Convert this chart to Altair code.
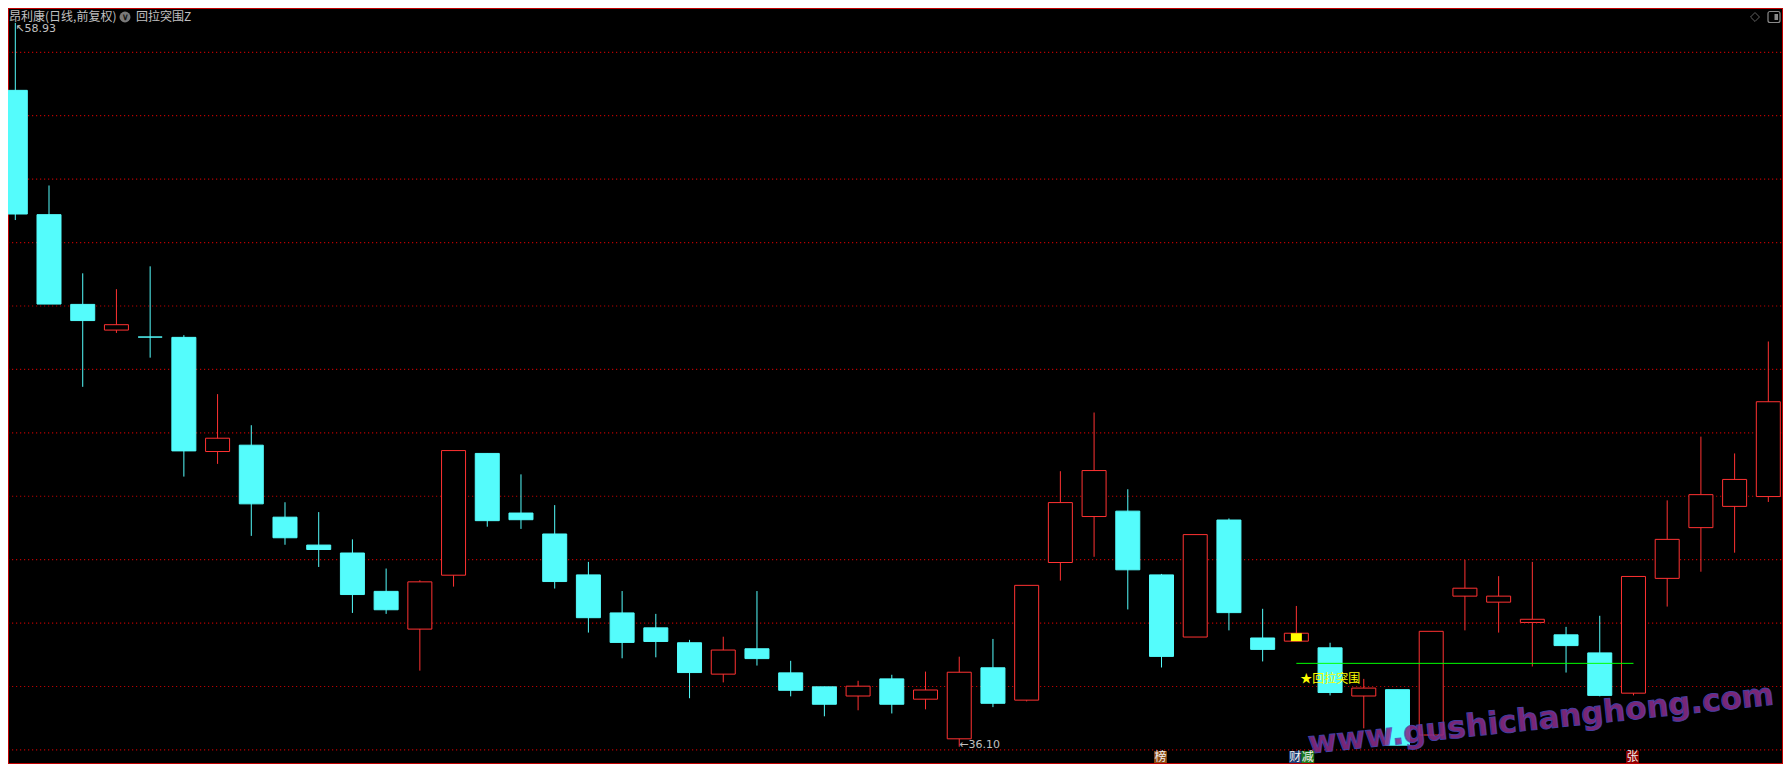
import altair as alt
import pandas as pd

# ---------------- data ----------------
opens  = [56.80, 52.88, 50.05, 49.24, 49.02, 49.01, 45.41, 45.61, 43.34, 42.46,
          42.21, 41.00, 39.81, 41.51, 45.35, 43.47, 42.81, 41.52, 40.32, 39.85,
          39.38, 38.39, 39.19, 38.43, 37.99, 37.70, 38.24, 37.60, 36.35, 38.59,
          37.57, 41.91, 43.36, 43.53, 41.52, 39.56, 43.25, 39.53, 39.43, 39.22,
          37.70, 37.90, 36.47, 40.85, 40.66, 40.02, 39.63, 39.06, 37.79, 41.41,
          43.01, 43.68, 43.99]
highs  = [58.93, 53.80, 51.03, 50.53, 51.25, 49.08, 47.22, 46.24, 43.81, 43.50,
          42.64, 41.72, 41.35, 45.44, 45.35, 44.69, 43.72, 41.93, 41.01, 40.29,
          39.47, 39.57, 41.01, 38.81, 37.99, 38.18, 38.37, 38.47, 38.94, 39.50,
          41.19, 44.79, 46.64, 44.22, 41.55, 42.79, 43.30, 40.45, 40.54, 39.38,
          38.24, 37.90, 39.74, 41.99, 41.48, 41.93, 39.88, 40.23, 41.47, 43.87,
          45.88, 45.35, 48.88]
lows   = [52.71, 50.06, 47.45, 49.15, 48.37, 44.62, 45.02, 42.75, 42.47, 41.77,
          40.32, 40.29, 38.50, 41.15, 43.04, 42.97, 41.09, 39.70, 38.89, 38.92,
          37.63, 38.13, 38.66, 37.69, 37.06, 37.25, 37.15, 37.28, 36.10, 37.35,
          37.53, 41.34, 42.09, 40.43, 38.60, 39.56, 39.77, 38.79, 39.43, 37.72,
          36.68, 36.15, 36.47, 39.77, 39.70, 38.63, 38.44, 37.69, 37.72, 40.52,
          41.62, 42.22, 43.82]
closes = [52.90, 50.06, 49.54, 49.41, 49.02, 45.43, 45.83, 43.76, 42.69, 42.32,
          40.90, 40.42, 41.30, 45.44, 43.23, 43.26, 41.31, 40.17, 39.39, 39.42,
          38.44, 39.15, 38.88, 37.88, 37.44, 38.01, 37.44, 37.89, 38.45, 37.47,
          41.19, 43.80, 44.81, 41.68, 38.95, 42.79, 40.33, 39.17, 39.68, 37.81,
          37.95, 36.15, 39.74, 41.10, 40.85, 40.12, 39.29, 37.72, 41.47, 42.64,
          44.05, 44.53, 46.98]

grid_levels = [36, 38, 40, 42, 44, 46, 48, 50, 52, 54, 56, 58]

signal_start = [38]
signal_end = [48]
signal_level = [38.73]
signal_text = ["★回拉突围"]

marker_idx = [34, 38, 38, 48]
marker_txt = ["榜", "财", "减", "张"]
marker_slot = [0, 0, 1, 0]

title_main = "昂利康(日线,前复权)"
title_ind = "回拉突围Z"
watermark = "www.gushichanghong.com"

# ---------------- styling / layout ----------------
RED = "#ff3232"
CYAN = "#54fcfc"
GRID = "#b80000"
FRAME = "#c00000"
GRAY = "#c0c0c0"
CJK = "Noto Sans CJK SC"

W, H = 1775, 756
MARGIN = 8
X0_PAGE, STEP = 15.3, 33.712
Y58_PAGE, PPU = 52.3, 31.71
x_dom = [-(X0_PAGE - MARGIN) / STEP, (W - (X0_PAGE - MARGIN)) / STEP]
y_dom = [58 - (H - (Y58_PAGE - MARGIN)) / PPU, 58 + (Y58_PAGE - MARGIN) / PPU]
xs = alt.Scale(domain=x_dom, nice=False, zero=False)
ys = alt.Scale(domain=y_dom, nice=False, zero=False)
HALF = 12 / STEP

df = pd.DataFrame({"i": list(range(len(opens))), "open": opens, "high": highs,
                   "low": lows, "close": closes})
df["dir"] = ["up" if c > o else "down" for o, c in zip(opens, closes)]

base = alt.Chart(df)

grid = alt.Chart(pd.DataFrame({"level": grid_levels})).mark_rule(
    color=GRID, strokeWidth=1.2, strokeDash=[1.2, 2.8]
).encode(y=alt.Y("level:Q", scale=ys, axis=None), x=alt.value(0), x2=alt.value(W))

wick = base.mark_rule(strokeWidth=1).encode(
    x=alt.X("i:Q", scale=xs, axis=None),
    y=alt.Y("low:Q", scale=ys, axis=None),
    y2="high:Q",
    color=alt.Color("dir:N", scale=alt.Scale(domain=["up", "down"], range=[RED, CYAN]), legend=None),
)

def bodies(cond, fill, stroke):
    return base.transform_filter(cond).transform_calculate(
        xl=f"datum.i - {HALF}", xr=f"datum.i + {HALF}"
    ).mark_rect(fill=fill, stroke=stroke, strokeWidth=1).encode(
        x=alt.X("xl:Q", scale=xs, axis=None), x2="xr:Q",
        y=alt.Y("open:Q", scale=ys, axis=None), y2="close:Q",
    )

up_body = bodies("datum.close > datum.open", "black", RED)
down_body = bodies("datum.close <= datum.open", CYAN, CYAN)

sig_df = pd.DataFrame({"start": signal_start, "end": signal_end,
                       "level": signal_level, "t": signal_text})
sig_square = base.transform_filter(alt.datum.i == signal_start[0]).transform_calculate(
    xl=f"datum.i - {5.5 / STEP}", xr=f"datum.i + {5.5 / STEP}"
).mark_rect(fill="#ffff00").encode(
    x=alt.X("xl:Q", scale=xs, axis=None), x2="xr:Q",
    y=alt.Y("open:Q", scale=ys, axis=None), y2="close:Q",
)
sig_line = alt.Chart(sig_df).mark_rule(color="#00ff00", strokeWidth=1).encode(
    x=alt.X("start:Q", scale=xs, axis=None), x2="end:Q",
    y=alt.Y("level:Q", scale=ys, axis=None),
)
sig_label = alt.Chart(sig_df).mark_text(
    align="left", baseline="middle", dx=4, dy=16, color="#ffff00", font=CJK, fontSize=12
).encode(x=alt.X("start:Q", scale=xs, axis=None), y=alt.Y("level:Q", scale=ys, axis=None), text="t:N")

hi_i = max(range(len(highs)), key=lambda k: highs[k])
lo_i = min(range(len(lows)), key=lambda k: lows[k])
hl_df = pd.DataFrame({"i": [hi_i, lo_i], "p": [highs[hi_i], lows[lo_i]],
                      "t": ["↖" + f"{highs[hi_i]:.2f}", "←" + f"{lows[lo_i]:.2f}"],
                      "k": ["hi", "lo"]})
hi_label = alt.Chart(hl_df).transform_filter(alt.datum.k == "hi").mark_text(
    align="left", baseline="middle", dx=0, dy=6, color=GRAY, font="DejaVu Sans", fontSize=11
).encode(x=alt.X("i:Q", scale=xs, axis=None), y=alt.Y("p:Q", scale=ys, axis=None), text="t:N")
lo_label = alt.Chart(hl_df).transform_filter(alt.datum.k == "lo").mark_text(
    align="left", baseline="middle", dx=0, dy=-2, color=GRAY, font="DejaVu Sans", fontSize=11
).encode(x=alt.X("i:Q", scale=xs, axis=None), y=alt.Y("p:Q", scale=ys, axis=None), text="t:N")

m_df = pd.DataFrame({"i": marker_idx, "txt": marker_txt, "slot": marker_slot})
m_base = alt.Chart(m_df).transform_calculate(
    cx="datum.i + datum.slot * 0.37 - 0.03"
).transform_calculate(xl="datum.cx - 0.19", xr="datum.cx + 0.19")
m_box = m_base.mark_rect().encode(
    x=alt.X("xl:Q", scale=xs, axis=None), x2="xr:Q",
    y=alt.value(H - 13), y2=alt.value(H - 1),
    fill=alt.Fill("txt:N", scale=alt.Scale(domain=marker_txt,
                  range=["#8b4a12", "#1b3b72", "#1c7a1c", "#8a0000"]), legend=None),
)
m_text = m_base.mark_text(color="#f0f0f0", font=CJK, fontSize=12, baseline="middle").encode(
    x=alt.X("cx:Q", scale=xs, axis=None), y=alt.value(H - 7), text="txt:N"
)

one = pd.DataFrame({"t": [title_main], "t2": [title_ind], "w": [watermark]})
TY = 9
t_main = alt.Chart(one).mark_text(align="left", baseline="middle", color=GRAY, font=CJK,
                                  fontSize=12).encode(x=alt.value(1), y=alt.value(TY), text="t:N")
t_circle = alt.Chart(one).mark_point(shape="circle", filled=True, size=120, color="#7a7a7a",
                                     opacity=1).encode(x=alt.value(117), y=alt.value(TY))
t_chev = alt.Chart(one).mark_text(text="∨", color="#151515", fontSize=9, fontWeight="bold",
                                  baseline="middle").encode(x=alt.value(117), y=alt.value(TY))
t_ind = alt.Chart(one).mark_text(align="left", baseline="middle", color=GRAY, font=CJK,
                                 fontSize=12).encode(x=alt.value(128), y=alt.value(TY), text="t2:N")
ic_diamond = alt.Chart(one).mark_point(shape="diamond", filled=False, size=80, color="#8a8a8a",
                                       strokeWidth=1).encode(x=alt.value(1747), y=alt.value(9))
ic_box = alt.Chart(one).mark_rect(fill="black", stroke="#8a8a8a", strokeWidth=1.2,
                                  cornerRadius=2).encode(
    x=alt.value(1760), x2=alt.value(1772), y=alt.value(3.5), y2=alt.value(14.5))
ic_bar = alt.Chart(one).mark_rect(fill="#8a8a8a").encode(
    x=alt.value(1766.5), x2=alt.value(1770), y=alt.value(6), y2=alt.value(12))

wm = alt.Chart(one).mark_text(
    font="DejaVu Sans", fontWeight="bold", fontSize=31, angle=354, color="#8a2c86",
    stroke="#4f47b8", strokeWidth=1, opacity=0.88, baseline="middle", align="center"
).encode(x=alt.value(1533), y=alt.value(712), text="w:N")

chart = alt.layer(
    grid, wick, up_body, down_body, sig_square, sig_line, sig_label,
    hi_label, lo_label, wm, m_box, m_text,
    t_main, t_circle, t_chev, t_ind, ic_diamond, ic_box, ic_bar,
).properties(
    width=W, height=H, background="black", padding=0,
    autosize=alt.AutoSizeParams(type="none"),
).configure_view(stroke=FRAME, strokeWidth=2)

chart.save("out.html", embed_options={"renderer": "svg", "actions": False})
